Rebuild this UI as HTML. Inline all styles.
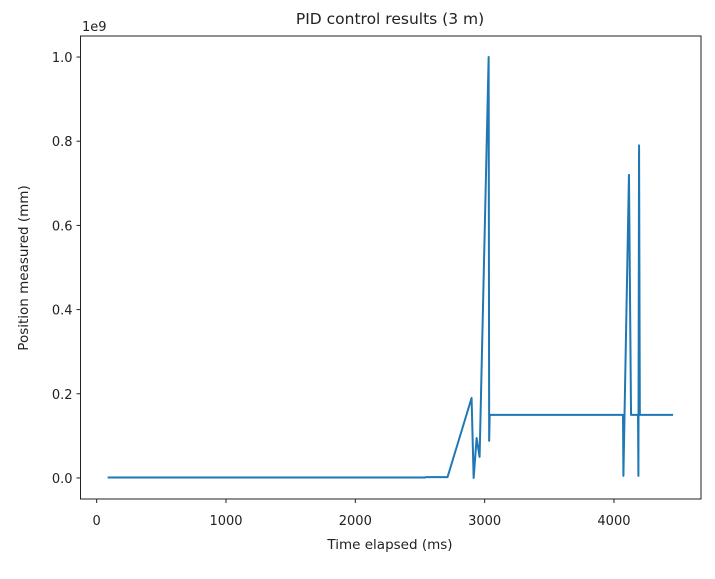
<!DOCTYPE html>
<html><head><meta charset="utf-8"><style>
body{margin:0;background:#fff;font-family:"Liberation Sans","DejaVu Sans",sans-serif;}
svg text{font-family:"DejaVu Sans","Liberation Sans",sans-serif;fill:#222;}
</style></head><body>
<svg id="chart" width="715" height="574" xmlns="http://www.w3.org/2000/svg"></svg>
<script>
const timesMs=[85,2540,2545,2713,2899,2915,2938,2961,3031,3035,3039,4070,4073,4116,4132,4186,4189,4194,4200,4457];
const positions=[0.001,0.001,0.002,0.002,0.19,0.0,0.095,0.05,1.0,0.088,0.15,0.15,0.005,0.72,0.15,0.15,0.005,0.79,0.15,0.15];
const xTicks=[0,1000,2000,3000,4000];
const yTicks=[0.0,0.2,0.4,0.6,0.8,1.0];
const yTickLabels=["0.0","0.2","0.4","0.6","0.8","1.0"];

const L=80.5,R=701,T=36,B=499;
const xMin=-125,xMax=4673,yMin=-0.05,yMax=1.05;
const sx=v=>L+(v-xMin)/(xMax-xMin)*(R-L);
const sy=v=>B-(v-yMin)/(yMax-yMin)*(B-T);
const svg=document.getElementById('chart');
const NS='http://www.w3.org/2000/svg';
function mk(tag,attrs,parent){const e=document.createElementNS(NS,tag);for(const k in attrs)e.setAttribute(k,attrs[k]);(parent||svg).appendChild(e);return e;}

const line=mk('polyline',{points:timesMs.map((t,i)=>sx(t)+','+sy(positions[i])).join(' '),fill:'none',stroke:'#1f77b4','stroke-width':2,'stroke-linejoin':'round'});



const frame=mk('rect',{x:L,y:T,width:R-L,height:B-T,fill:'none',stroke:'#222','stroke-width':1});



xTicks.forEach(v=>{
  const x=sx(v);
  const tk=mk('line',{x1:x,x2:x,y1:B,y2:B+4,stroke:'#222'});
  
  
  const tx=mk('text',{x:x,y:B+26,'text-anchor':'middle','font-size':13});
  tx.textContent=String(v);
  
  
});
yTicks.forEach((v,i)=>{
  const y=sy(v);
  const tk=mk('line',{x1:L-4,x2:L,y1:y,y2:y,stroke:'#222'});
  
  
  const tx=mk('text',{x:L-8,y:y+5,'text-anchor':'end','font-size':13});
  tx.textContent=yTickLabels[i];
  
  
});
</script>
<svg style="position:absolute;left:0;top:0" width="715" height="574" xmlns="http://www.w3.org/2000/svg">
<text x="390" y="24" text-anchor="middle" font-size="15.5">PID control results (3 m)</text>
<text x="82" y="31" font-size="13">1e9</text>
<text x="390" y="549" text-anchor="middle" font-size="13.5">Time elapsed (ms)</text>
<text x="28" y="268" text-anchor="middle" font-size="13.5" transform="rotate(-90 28 268)">Position measured (mm)</text>
</svg>
</body></html>
